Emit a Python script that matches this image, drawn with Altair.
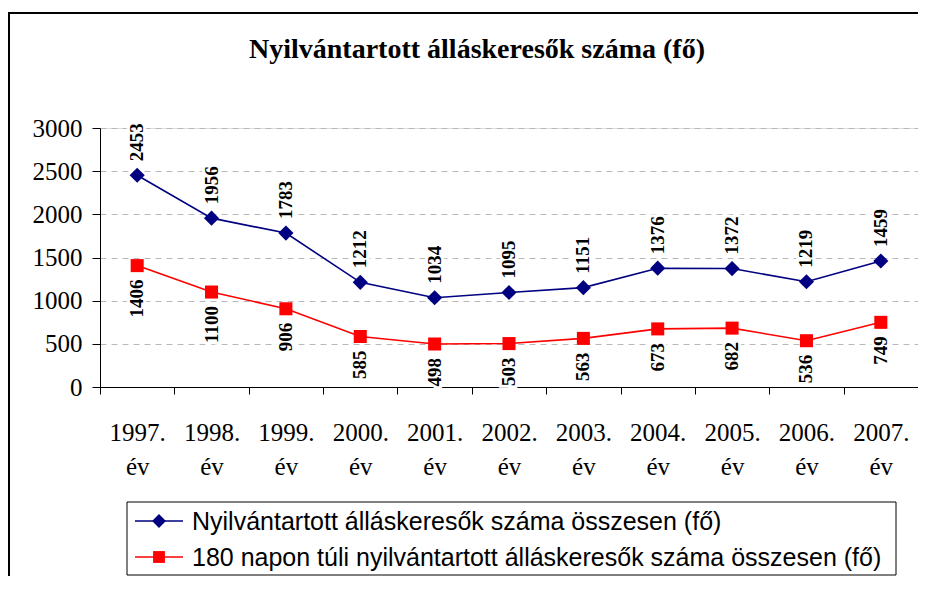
import altair as alt
import pandas as pd

years = ["1997.", "1998.", "1999.", "2000.", "2001.", "2002.", "2003.", "2004.", "2005.", "2006.", "2007."]
total = [2453, 1956, 1783, 1212, 1034, 1095, 1151, 1376, 1372, 1219, 1459]
long_term = [1406, 1100, 906, 585, 498, 503, 563, 673, 682, 536, 749]
s_total = "Nyilvántartott álláskeresők száma összesen (fő)"
s_long = "180 napon túli nyilvántartott álláskeresők száma összesen (fő)"
series = [s_total, s_long]
colors = ["#000080", "#FF0000"]
y_ticks = [0, 500, 1000, 1500, 2000, 2500, 3000]
title = "Nyilvántartott álláskeresők száma (fő)"

cats = [y + " év" for y in years]
rows = []
for c, v in zip(cats, total):
    rows.append({"ev": c, "series": s_total, "value": v})
for c, v in zip(cats, long_term):
    rows.append({"ev": c, "series": s_long, "value": v})
df = pd.DataFrame(rows)

W, H = 818, 259
BOTTOM = 189
SERIF = "Liberation Serif"
SANS = "Liberation Sans"

color = alt.Color("series:N", scale=alt.Scale(domain=series, range=colors), legend=None)

x = alt.X("ev:N", sort=cats, scale=alt.Scale(type="band", paddingInner=0, paddingOuter=0),
          axis=alt.Axis(title=None, labelExpr="split(datum.label, ' ')", labelAngle=0,
                        labelFont=SERIF, labelFontSize=25, labelColor="black", labelLineHeight=34,
                        labelPadding=26, tickSize=7, tickBand="extent", tickColor="black",
                        domainColor="black", grid=False))
y = alt.Y("value:Q", scale=alt.Scale(domain=[0, 3000], nice=False),
          axis=alt.Axis(title=None, values=y_ticks, format="d", labelFont=SERIF, labelFontSize=25,
                        labelColor="black", labelPadding=10, tickSize=8, tickColor="black",
                        domainColor="black", grid=True, gridDash=[6, 5], gridColor="#b8b8b8", gridWidth=1))

base = alt.Chart(df).encode(x=x, y=y, color=color)

lines = base.mark_line(strokeWidth=1.6)
pts_total = base.transform_filter(alt.datum.series == s_total).mark_point(
    filled=True, opacity=1, shape="diamond", size=230)
pts_long = base.transform_filter(alt.datum.series == s_long).mark_point(
    filled=True, opacity=1, shape="square", size=170)

lab_common = dict(angle=270, baseline="middle", font=SERIF, fontSize=19, fontWeight="bold")
top_base = alt.Chart(df).transform_filter(alt.datum.series == s_total).encode(
    x=x, y=y, text=alt.Text("value:Q"))
bot_base = alt.Chart(df).transform_filter(alt.datum.series == s_long).encode(
    x=x, y=y, text=alt.Text("value:Q"))

top_halo = top_base.mark_text(align="left", dx=14, stroke="white", strokeWidth=6, fill="white", **lab_common)
top_text = top_base.mark_text(align="left", dx=14, color="black", **lab_common)
bot_halo = bot_base.mark_text(align="right", dx=-14, stroke="white", strokeWidth=6, fill="white", **lab_common)
bot_text = bot_base.mark_text(align="right", dx=-14, color="black", **lab_common)

one = pd.DataFrame({"k": [0]})

# outer chart frame
frame_left = alt.Chart(one).mark_rule(color="black", strokeWidth=2).encode(
    x=alt.value(-91), y=alt.value(-115), y2=alt.value(H + BOTTOM + 5))
frame_top = alt.Chart(one).mark_rule(color="black", strokeWidth=2).encode(
    x=alt.value(-92), x2=alt.value(W + 10), y=alt.value(-115))

# chart title
title_mark = alt.Chart(one).mark_text(
    font=SERIF, fontSize=28, fontWeight="bold", color="black", align="center", baseline="alphabetic"
).encode(x=alt.value(377), y=alt.value(-70), text=alt.value(title))

# legend box
LX0, LX1, LY0, LY1 = 27, 796, 374, 447
ROW1, ROW2 = 393, 429
leg_box = alt.Chart(one).mark_rect(fill="white", stroke="black", strokeWidth=1).encode(
    x=alt.value(LX0), x2=alt.value(LX1), y=alt.value(LY0), y2=alt.value(LY1))
leg_items = []
for name, col, shp, sz, ry in [(s_total, colors[0], "diamond", 190, ROW1), (s_long, colors[1], "square", 140, ROW2)]:
    leg_items.append(alt.Chart(one).mark_rule(color=col, strokeWidth=1.6).encode(
        x=alt.value(35), x2=alt.value(83), y=alt.value(ry)))
    leg_items.append(alt.Chart(one).mark_point(filled=True, opacity=1, color=col, shape=shp, size=sz).encode(
        x=alt.value(59), y=alt.value(ry)))
    leg_items.append(alt.Chart(one).mark_text(
        font=SANS, fontSize=25, color="black", align="left", baseline="middle").encode(
        x=alt.value(92), y=alt.value(ry + 1), text=alt.value(name)))

chart = alt.layer(
    frame_left, frame_top, title_mark, lines, top_halo, bot_halo, pts_total, pts_long, top_text, bot_text,
    leg_box, *leg_items
).properties(
    width=W, height=H,
    autosize=alt.AutoSizeParams(type="none"),
    padding={"left": 92, "top": 120, "right": 0, "bottom": BOTTOM},
).configure_view(strokeWidth=0).configure(background="white")

chart.save("out.html", embed_options={"renderer": "svg", "actions": False})
